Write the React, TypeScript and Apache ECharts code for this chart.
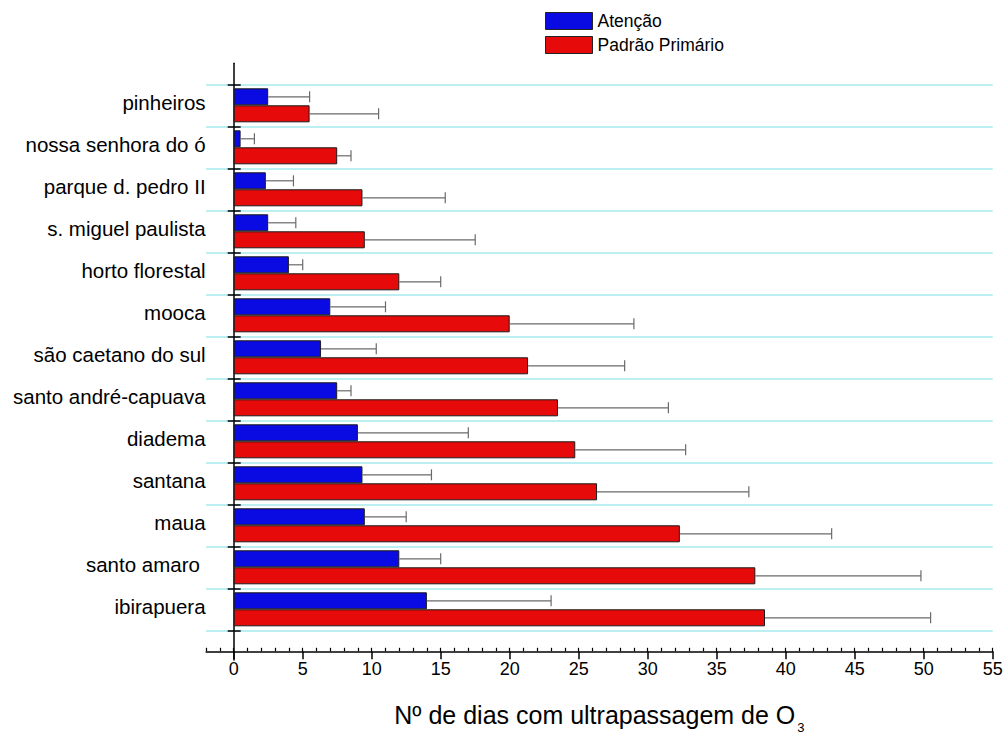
import { useEffect, useRef } from "react";
import * as echarts from "echarts";

// Monitoring stations, listed top to bottom
const stations = [
  "pinheiros",
  "nossa senhora do ó",
  "parque d. pedro II",
  "s. miguel paulista",
  "horto florestal",
  "mooca",
  "são caetano do sul",
  "santo andré-capuava",
  "diadema",
  "santana",
  "maua",
  "santo amaro ",
  "ibirapuera",
];

// Mean number of days above each O3 threshold, with standard deviation
const atencaoMean = [2.5, 0.5, 2.33, 2.5, 4, 7, 6.33, 7.5, 9, 9.33, 9.5, 12, 14];
const atencaoSd = [3, 1, 2, 2, 1, 4, 4, 1, 8, 5, 3, 3, 9];
const primarioMean = [5.5, 7.5, 9.33, 9.5, 12, 20, 21.33, 23.5, 24.75, 26.33, 32.33, 37.8, 38.5];
const primarioSd = [5, 1, 6, 8, 3, 9, 7, 8, 8, 11, 11, 12, 12];

const xTicks = [0, 5, 10, 15, 20, 25, 30, 35, 40, 45, 50, 55];

const FONT = "Arial, 'Liberation Sans', Helvetica, sans-serif";
const BLUE = "#0a0ae2";
const RED = "#e60a0a";
const BAR_W = 17;

const errorSeries = (name: string, means: number[], sds: number[], offset: number) => ({
  type: "custom",
  name,
  xAxisIndex: 0,
  yAxisIndex: 0,
  z: 3,
  data: means.map((m, i) => [i, m, m + sds[i]]),
  encode: { x: [1, 2], y: 0 },
  renderItem: (_params: any, api: any) => {
    const cat = api.value(0);
    const start = api.coord([api.value(1), cat]);
    const end = api.coord([api.value(2), cat]);
    const y = start[1] + offset;
    const style = { stroke: "#6a6a6a", lineWidth: 1.2 };
    return {
      type: "group",
      children: [
        { type: "line", shape: { x1: start[0], y1: y, x2: end[0], y2: y }, style },
        { type: "line", shape: { x1: end[0], y1: y - 5.5, x2: end[0], y2: y + 5.5 }, style },
      ],
    };
  },
});

export default function App() {
  const ref = useRef<HTMLDivElement>(null);

  useEffect(() => {
    if (!ref.current) return;
    const chart = echarts.init(ref.current, undefined, { renderer: "svg" });

    const gridLeft = 206.1;
    const gridRight = 13.3;

    chart.setOption({
      animation: false,
      backgroundColor: "#ffffff",
      textStyle: { fontFamily: FONT },
      legend: {
        data: ["Atenção", "Padrão Primário"],
        orient: "vertical",
        left: 540,
        top: 7,
        itemWidth: 47,
        itemHeight: 17,
        itemGap: 6,
        icon: "rect",
        itemStyle: { borderColor: "#222", borderWidth: 1 },
        textStyle: { fontSize: 17.5, color: "#000", fontFamily: FONT },
      },
      grid: [
        { left: gridLeft, right: gridRight, top: 84.3, height: 546, outerBoundsMode: "none", containLabel: false },
        { left: 233.7, right: gridRight, top: 63.3, height: 596.7, outerBoundsMode: "none", containLabel: false },
      ],
      xAxis: [
        {
          gridIndex: 0,
          type: "value",
          min: -2,
          max: 55,
          position: "bottom",
          offset: 21,
          axisLine: { show: true, onZero: false, lineStyle: { color: "#000", width: 1.5 } },
          axisTick: { show: true, customValues: xTicks, length: 8, inside: false, lineStyle: { color: "#000", width: 1.5 } },
          axisLabel: { customValues: xTicks, fontSize: 18, color: "#000", margin: 9, fontFamily: FONT },
          splitLine: { show: false },
          name: "Nº de dias com ultrapassagem de O{sub|3}",
          nameLocation: "middle",
          nameGap: 44,
          nameTextStyle: {
            fontSize: 25,
            color: "#000",
            fontFamily: FONT,
            rich: { sub: { fontSize: 13, color: "#000", fontFamily: FONT, padding: [26, 0, 0, 2] } },
          },
        },
        {
          gridIndex: 0,
          type: "value",
          min: -2,
          max: 55,
          interval: 1,
          position: "bottom",
          offset: 21,
          axisLine: { show: false, onZero: false },
          axisTick: { show: true, inside: true, length: 3.5, lineStyle: { color: "#000", width: 1.2 } },
          axisLabel: { show: false },
          splitLine: { show: false },
        },
        { gridIndex: 1, type: "value", min: 0, max: 1, show: false },
      ],
      yAxis: [
        {
          gridIndex: 0,
          type: "category",
          data: stations,
          inverse: true,
          position: "left",
          axisLine: { show: false, onZero: true, onZeroAxisIndex: 0 },
          axisTick: { show: true, interval: 0, length: 6, inside: false, lineStyle: { color: "#000", width: 1.5 } },
          axisLabel: {
            interval: 0,
            color: "#000",
            margin: 0.5,
            formatter: (v: string) => `{n|${v}}`,
            rich: {
              n: { fontSize: 20.5, color: "#000", fontFamily: FONT, padding: [0, 0, 6, 0] },
            },
          },
          splitLine: { show: true, interval: 0, lineStyle: { color: "#a4eaee", width: 1.5 } },
        },
        {
          gridIndex: 0,
          type: "category",
          data: stations,
          inverse: true,
          position: "left",
          axisLine: { show: false, onZero: true, onZeroAxisIndex: 0 },
          axisTick: { show: true, interval: 0, length: 7, inside: true, lineStyle: { color: "#000", width: 1.5 } },
          axisLabel: { show: false },
          splitLine: { show: false },
        },
        {
          gridIndex: 1,
          type: "value",
          min: 0,
          max: 1,
          position: "left",
          axisLine: { show: true, onZero: false, lineStyle: { color: "#000", width: 1.5 } },
          axisTick: { show: false },
          axisLabel: { show: false },
          splitLine: { show: false },
        },
      ],
      series: [
        {
          type: "bar",
          name: "Atenção",
          xAxisIndex: 0,
          yAxisIndex: 0,
          data: atencaoMean,
          barWidth: BAR_W,
          barGap: "0%",
          itemStyle: { color: BLUE, borderColor: "#1a1a1a", borderWidth: 1 },
          z: 2,
        },
        {
          type: "bar",
          name: "Padrão Primário",
          xAxisIndex: 0,
          yAxisIndex: 0,
          data: primarioMean,
          barWidth: BAR_W,
          barGap: "0%",
          itemStyle: { color: RED, borderColor: "#1a1a1a", borderWidth: 1 },
          z: 2,
        },
        errorSeries("Atenção (desvio)", atencaoMean, atencaoSd, -BAR_W / 2),
        errorSeries("Padrão Primário (desvio)", primarioMean, primarioSd, BAR_W / 2),
      ],
    });

    return () => chart.dispose();
  }, []);

  return (
    <div
      ref={ref}
      style={{ position: "absolute", left: 0, top: 0, width: 1006, height: 735 }}
    />
  );
}
